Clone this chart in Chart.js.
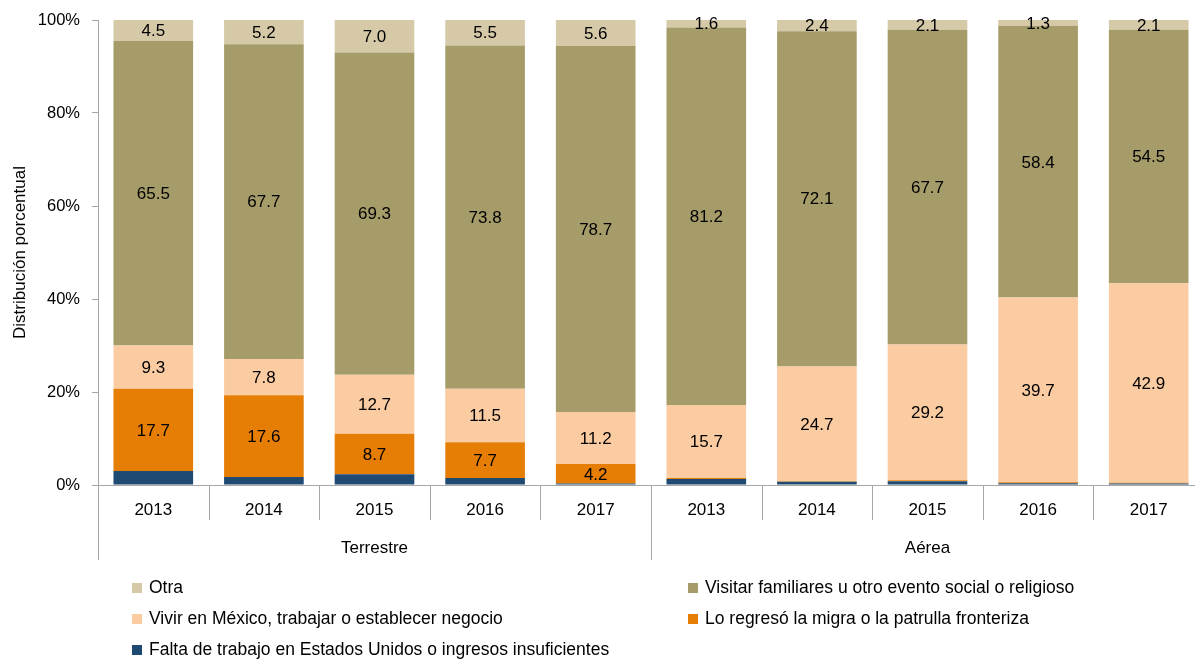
<!DOCTYPE html>
<html>
<head>
<meta charset="utf-8">
<script src="https://cdn.jsdelivr.net/npm/chart.js@4.4.0/dist/chart.umd.min.js"></script>
<style>
html,body{margin:0;padding:0;background:#fff;overflow:hidden;width:1195px;height:659px;}
#wrap{position:relative;width:1215px;height:659px;}
</style>
</head>
<body>
<div id="wrap"><canvas id="chart"></canvas></div>
<script>
// ===== Data =====
const years = ["2013","2014","2015","2016","2017","2013","2014","2015","2016","2017"];
const groups = ["Terrestre","Aérea"];
const groupSize = 5;
const falta   = [3.0,1.7,2.3,1.5,0.3, 1.3,0.7,0.8,0.4,0.3];
const regreso = [17.7,17.6,8.7,7.7,4.2, 0.2,0.1,0.2,0.2,0.2];
const vivir   = [9.3,7.8,12.7,11.5,11.2, 15.7,24.7,29.2,39.7,42.9];
const visitar = [65.5,67.7,69.3,73.8,78.7, 81.2,72.1,67.7,58.4,54.5];
const otra    = [4.5,5.2,7.0,5.5,5.6, 1.6,2.4,2.1,1.3,2.1];
const yTicks  = [0,20,40,60,80,100];

const FONT = "'Liberation Sans', Arial, sans-serif";
const AXIS_COLOR = "#a6a6a6";

// ===== Plugins =====
const valueLabels = {
    id:"valueLabels",
    afterDatasetsDraw(chart){
        const c = chart.ctx;
        c.save();
        c.font = "17px " + FONT;
        c.fillStyle = "#000";
        c.textAlign = "center";
        c.textBaseline = "middle";
        chart.data.datasets.forEach((ds,di)=>{
            if(!ds.showLabels) return;
            const meta = chart.getDatasetMeta(di);
            meta.data.forEach((bar,i)=>{
                const v = ds.data[i];
                if(v < 1) return;
                c.fillText(v.toFixed(1), bar.x, (bar.y + bar.base)/2 + 1);
            });
        });
        c.restore();
    }
};

const groupAxis = {
    id:"groupAxis",
    afterDraw(chart){
        const c = chart.ctx;
        const xs = chart.scales.x;
        const n = years.length;
        const w = (xs.right - xs.left) / n;
        c.save();
        c.strokeStyle = AXIS_COLOR;
        c.lineWidth = 1;
        for(let i=0;i<=n;i++){
            const x = Math.round(xs.left + i*w) + 0.5;
            const long = i % groupSize === 0;
            c.beginPath();
            c.moveTo(x, xs.top);
            c.lineTo(x, xs.top + (long ? 75 : 35));
            c.stroke();
        }
        c.font = "17px " + FONT;
        c.fillStyle = "#000";
        c.textAlign = "center";
        c.textBaseline = "middle";
        groups.forEach((g,gi)=>{
            const cx = xs.left + (gi*groupSize + groupSize/2) * w;
            c.fillText(g, cx, xs.top + 63);
        });

        // legend
        const items = chart.data.datasets.slice().reverse();
        const colX = [132, 688];
        const rowY = [588, 619, 650];
        c.font = "17.5px " + FONT;
        items.forEach((ds,k)=>{
            const x = colX[k % 2];
            const y = rowY[Math.floor(k / 2)];
            c.fillStyle = ds.backgroundColor;
            c.fillRect(x, y - 5, 10, 10);
            c.fillStyle = "#000";
            c.textAlign = "left";
            c.fillText(ds.label, x + 17, y);
        });
        c.restore();
    }
};

// ===== Chart =====
new Chart(document.getElementById("chart"), {
    type:"bar",
    data:{
        labels:years,
        datasets:[
            {label:"Falta de trabajo en Estados Unidos o ingresos insuficientes", data:falta, backgroundColor:"#1f4a72", showLabels:false},
            {label:"Lo regresó la migra o la patrulla fronteriza", data:regreso, backgroundColor:"#e67e05", showLabels:true},
            {label:"Vivir en México, trabajar o establecer negocio", data:vivir, backgroundColor:"#fbcba2", showLabels:true},
            {label:"Visitar familiares u otro evento social o religioso", data:visitar, backgroundColor:"#a59c69", showLabels:true},
            {label:"Otra", data:otra, backgroundColor:"#d5c9a8", showLabels:true}
        ]
    },
    options:{
        responsive:true,
        maintainAspectRatio:false,
        animation:false,
        events:[],
        layout:{padding:{top:20, right:11, bottom:0, left:0}},
        datasets:{bar:{categoryPercentage:1, barPercentage:0.72, borderWidth:0}},
        plugins:{legend:{display:false}, tooltip:{enabled:false}},
        scales:{
            x:{
                stacked:true,
                grid:{display:false, drawTicks:false},
                border:{display:true, color:AXIS_COLOR},
                ticks:{color:"#000", font:{family:FONT, size:17}, padding:15, maxRotation:0, autoSkip:false},
                afterFit(s){ s.height = 174; s.paddingLeft = 0; s.paddingRight = 0; }
            },
            y:{
                stacked:true,
                min:0, max:100,
                afterBuildTicks(s){ s.ticks = yTicks.map(v=>({value:v})); },
                grid:{drawOnChartArea:false, drawTicks:true, tickLength:6, color:AXIS_COLOR},
                border:{display:true, color:AXIS_COLOR},
                ticks:{color:"#000", font:{family:FONT, size:16.5}, padding:12, callback:v=>v+"%"},
                title:{display:true, text:"Distribución porcentual", color:"#000", font:{family:FONT, size:17}, padding:{top:10, bottom:0}},
                afterFit(s){ s.width = 98; s.paddingTop = 0; s.paddingBottom = 0; }
            }
        }
    },
    plugins:[valueLabels, groupAxis]
});
</script>
</body>
</html>
